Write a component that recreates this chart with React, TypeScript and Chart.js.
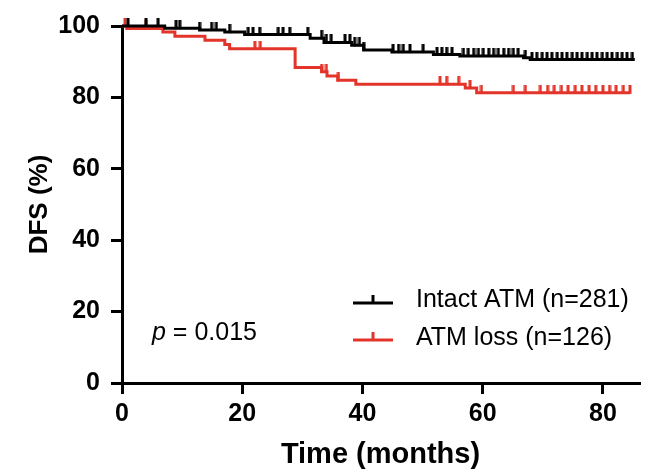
import React, { useEffect, useRef } from "react";
import { Chart, registerables } from "chart.js";

Chart.register(...registerables);

// ---- data ----
const intactTimes = [0, 7.1, 12.9, 17.1, 20.4, 31.3, 33.6, 38.2, 40.2, 44.9, 51.8, 56.2, 66.8, 67.9, 85.3];
const intactSurv = [100, 99.4, 98.9, 98.3, 97.6, 96.6, 95.4, 94.6, 93.3, 92.7, 92.0, 91.6, 91.1, 90.6, 90.6];
const intactCensor = [
  1.0, 4.0, 6.0, 9.0, 9.6, 12.9, 14.9, 15.7, 17.9, 21.0, 21.8, 22.9, 26.0, 26.8, 27.9, 30.9,
  33.2, 34.0, 34.8, 37.1, 37.9, 38.7, 39.5, 40.2, 45.1, 46.0, 46.8, 47.9, 50.1, 52.4, 53.2,
  54.0, 54.9, 56.8, 57.6, 58.5, 59.3, 60.1, 61.0, 61.8, 62.6, 63.5, 64.3, 65.1, 65.9, 67.1,
  68.2, 69.0, 69.9, 70.7, 71.5, 72.4, 73.2, 74.0, 74.9, 75.7, 76.5, 77.4, 78.2, 79.0, 79.9,
  80.7, 81.5, 82.4, 83.2, 84.0, 84.9,
];

const lossTimes = [0, 0.8, 6.8, 8.8, 13.8, 17.1, 17.9, 28.8, 33.2, 34.1, 35.9, 38.9, 57.1, 59.0, 84.5];
const lossSurv = [100, 99.3, 98.3, 97.1, 96.0, 94.8, 93.6, 88.4, 87.2, 86.0, 84.8, 83.7, 82.6, 81.3, 81.3];
const lossCensor = [
  0.5, 4.0, 22.1, 23.0, 33.2, 34.0, 36.0, 52.9, 54.0, 56.0, 57.9, 59.8, 65.1, 67.1, 69.6,
  70.8, 71.9, 73.1, 74.2, 75.4, 76.5, 77.7, 78.8, 80.0, 81.1, 82.2, 83.4, 84.5,
];

const seriesLabels = ["Intact ATM (n=281)", "ATM loss (n=126)"];
const seriesColors = ["#000000", "#e3342a"];
const xTicks = [0, 20, 40, 60, 80];
const yTicks = [0, 20, 40, 60, 80, 100];
const pValue = "0.015";

const FONT = "'Liberation Sans', Arial, Helvetica, sans-serif";

function levelAt(times: number[], surv: number[], t: number): number {
  let v = surv[0];
  for (let i = 0; i < times.length; i++) {
    if (times[i] <= t) v = surv[i];
  }
  return v;
}

function makeTick(color: string, up: number, w: number): HTMLCanvasElement {
  const c = document.createElement("canvas");
  c.width = 4;
  c.height = up * 2;
  const g = c.getContext("2d")!;
  g.fillStyle = color;
  g.fillRect((c.width - w) / 2, 0, w, up + 1);
  return c;
}

const overlayPlugin = {
  id: "kmOverlay",
  afterDraw(chart: any) {
    const ctx = chart.ctx as CanvasRenderingContext2D;
    ctx.save();
    const rows = [
      { lineY: 303, textY: 307 },
      { lineY: 340, textY: 345 },
    ];
    seriesLabels.forEach((label, i) => {
      const r = rows[i];
      ctx.strokeStyle = seriesColors[i];
      ctx.lineWidth = 3;
      ctx.beginPath();
      ctx.moveTo(353, r.lineY);
      ctx.lineTo(393, r.lineY);
      ctx.moveTo(373, r.lineY);
      ctx.lineTo(373, r.lineY - 8);
      ctx.stroke();
      ctx.fillStyle = "#000";
      ctx.font = `25px ${FONT}`;
      ctx.textAlign = "left";
      ctx.textBaseline = "alphabetic";
      ctx.fillText(label, 416, r.textY);
    });
    ctx.fillStyle = "#000";
    ctx.textBaseline = "alphabetic";
    ctx.textAlign = "left";
    ctx.font = `italic 25px ${FONT}`;
    ctx.fillText("p", 152, 340);
    const pw = ctx.measureText("p").width;
    ctx.font = `25px ${FONT}`;
    ctx.fillText(" = " + pValue, 152 + pw, 340);
    ctx.restore();
  },
};

export default function App() {
  const ref = useRef<HTMLCanvasElement | null>(null);

  useEffect(() => {
    if (!ref.current) return;
    const blackTick = makeTick(seriesColors[0], 8, 3);
    const redTick = makeTick(seriesColors[1], 8, 3);

    const curve = (times: number[], surv: number[]) => times.map((t, i) => ({ x: t, y: surv[i] }));
    const marks = (cens: number[], times: number[], surv: number[]) =>
      cens.map((t) => ({ x: t, y: levelAt(times, surv, t) }));

    const chart = new Chart(ref.current, {
      type: "line",
      data: {
        datasets: [
          {
            label: seriesLabels[0] + " censored",
            data: marks(intactCensor, intactTimes, intactSurv),
            showLine: false,
            pointStyle: blackTick as any,
            pointRadius: 4,
            clip: false as any,
          },
          {
            label: seriesLabels[0],
            data: curve(intactTimes, intactSurv),
            borderColor: seriesColors[0],
            borderWidth: 3,
            stepped: "before",
            pointRadius: 0,
            fill: false,
            clip: false as any,
          },
          {
            label: seriesLabels[1] + " censored",
            data: marks(lossCensor, lossTimes, lossSurv),
            showLine: false,
            pointStyle: redTick as any,
            pointRadius: 4,
            clip: false as any,
          },
          {
            label: seriesLabels[1],
            data: curve(lossTimes, lossSurv),
            borderColor: seriesColors[1],
            borderWidth: 3,
            stepped: "before",
            pointRadius: 0,
            fill: false,
            clip: false as any,
          },
        ],
      },
      options: {
        animation: false,
        responsive: false,
        devicePixelRatio: 1,
        layout: { padding: { top: 20, right: 9, left: 0, bottom: 0 } },
        plugins: { legend: { display: false }, tooltip: { enabled: false } },
        scales: {
          x: {
            type: "linear",
            min: 0,
            max: 86,
            afterFit: (s: any) => {
              s.height = 92;
            },
            afterBuildTicks: (s: any) => {
              s.ticks = xTicks.map((v) => ({ value: v }));
            },
            ticks: {
              includeBounds: false,
              stepSize: 20,
              color: "#000",
              padding: 5,
              maxRotation: 0,
              font: { family: FONT, size: 25, weight: "bold" },
            },
            grid: {
              display: true,
              drawOnChartArea: false,
              drawTicks: true,
              tickLength: 11,
              tickWidth: 3,
              tickColor: "#000",
              color: "#000",
              lineWidth: 3,
            },
            border: { display: true, color: "#000", width: 3 },
            title: {
              display: true,
              text: "Time (months)",
              color: "#000",
              padding: { top: 0, bottom: 3 },
              font: { family: FONT, size: 29, weight: "bold" },
            },
          },
          y: {
            type: "linear",
            min: 0,
            max: 100,
            afterFit: (s: any) => {
              s.width = 122;
            },
            afterBuildTicks: (s: any) => {
              s.ticks = yTicks.map((v) => ({ value: v }));
            },
            ticks: {
              stepSize: 20,
              color: "#000",
              padding: 11,
              font: { family: FONT, size: 25, weight: "bold" },
            },
            grid: {
              display: true,
              drawOnChartArea: false,
              drawTicks: true,
              tickLength: 11,
              tickWidth: 3,
              tickColor: "#000",
              color: "#000",
              lineWidth: 3,
            },
            border: { display: true, color: "#000", width: 3 },
            title: {
              display: true,
              text: "DFS (%)",
              color: "#000",
              padding: { top: 24, bottom: 0 },
              font: { family: FONT, size: 26, weight: "bold" },
            },
          },
        },
      },
      plugins: [overlayPlugin],
    });
    return () => chart.destroy();
  }, []);

  return (
    <div style={{ position: "fixed", left: 0, top: 0, width: 648, height: 475, background: "#fff" }}>
      <canvas ref={ref} width={648} height={475} style={{ display: "block", width: 648, height: 475 }} />
    </div>
  );
}
